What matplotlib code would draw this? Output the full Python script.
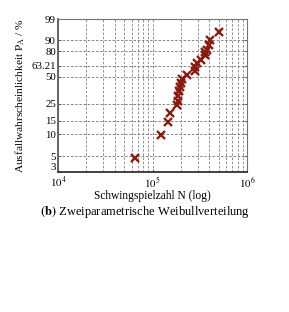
import numpy as np
import matplotlib
matplotlib.use("Agg")
import matplotlib.pyplot as plt

plt.rcParams['font.family'] = ['Liberation Serif', 'DejaVu Serif']
plt.rcParams['mathtext.fontset'] = 'stix'

# Schwingspielzahl und Ausfallwahrscheinlichkeit
cycles = [65800, 124000, 147000, 154000, 180000, 185000, 185000, 190600,
          195000, 202000, 205000, 230000, 282000, 282000, 294000, 328000,
          362000, 362000, 374000, 393000, 406000, 505000]
prob = [4.7, 9.7, 14.4, 19.1, 24.1, 27.2, 30.7, 35.1, 39.0, 43.1, 47.1,
        52.0, 56.7, 61.5, 66.3, 70.4, 75.4, 79.1, 81.6, 85.8, 90.0, 95.2]
yticks = [3, 5, 10, 15, 25, 50, 63.21, 80, 90, 99]
ytick_labels = ["3", "5", "10", "15", "25", "50", "63.21", "80", "90", "99"]


def weibull_fwd(p):
    p = np.clip(np.asarray(p, dtype=float), 1e-6, 100 - 1e-6)
    return np.log(-np.log(1 - p / 100.0))


def weibull_inv(w):
    return 100.0 * (1 - np.exp(-np.exp(w)))


fig = plt.figure(figsize=(2.89, 3.12), dpi=100)
ax = fig.add_axes([0.2007, 0.4487, 0.654, 0.4903])

ax.set_xscale("log")
ax.set_yscale("function", functions=(weibull_fwd, weibull_inv))
ax.set_xlim(1e4, 1e6)
ax.set_ylim(3, 99)

ax.plot(cycles, prob, linestyle="none", marker="x", color="#8b1a10",
        markersize=6, markeredgewidth=1.7, zorder=3)

ax.set_yticks(yticks)
ax.set_yticklabels(ytick_labels)
ax.yaxis.set_minor_locator(matplotlib.ticker.NullLocator())
ax.set_xticks([1e4, 1e5, 1e6])
ax.set_xticklabels([r"$10^4$", r"$10^5$", r"$10^6$"])
# "3" sitzt knapp ueber 10^4
ax.get_yticklabels()[0].set_va("bottom")

ax.grid(True, which="major", axis="y", color="0.45", linestyle=(0, (3, 2)), linewidth=0.6)
ax.grid(True, which="both", axis="x", color="0.5", linestyle=(0, (3, 2)), linewidth=0.6)

for s in ax.spines.values():
    s.set_color("0.45")
    s.set_linewidth(0.8)
ax.spines["left"].set_linewidth(1.3)
ax.spines["bottom"].set_linewidth(1.3)
ax.spines["left"].set_color("0.35")
ax.spines["bottom"].set_color("0.2")

ax.tick_params(which="both", direction="in", length=2.5, width=0.6, colors="0.3",
               labelsize=7.8, labelcolor="black", top=False, right=True, pad=1.5)
ax.tick_params(axis="x", which="minor", length=0)
ax.tick_params(axis="x", pad=2)

ax.set_xlabel("Schwingspielzahl N (log)", fontsize=8.3, labelpad=0)
ax.set_ylabel(r"Ausfallwahrscheinlichkeit P$_\mathrm{A}$ / %", fontsize=8.2, labelpad=3)

fig.text(0.5, 1 - 212 / 312, r"$\mathbf{(b)}$ Zweiparametrische Weibullverteilung",
         ha="center", va="center", fontsize=9)

fig.savefig("out.png", dpi=100)
